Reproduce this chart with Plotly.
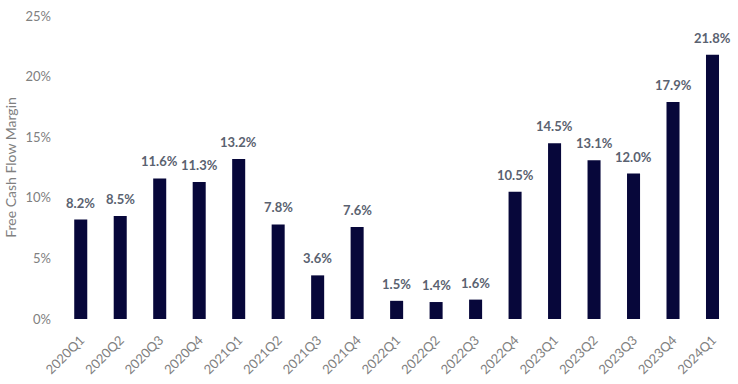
import plotly.graph_objects as go

quarters = ["2020Q1","2020Q2","2020Q3","2020Q4","2021Q1","2021Q2","2021Q3","2021Q4",
            "2022Q1","2022Q2","2022Q3","2022Q4","2023Q1","2023Q2","2023Q3","2023Q4","2024Q1"]
margins = [8.2, 8.5, 11.6, 11.3, 13.2, 7.8, 3.6, 7.6, 1.5, 1.4, 1.6, 10.5, 14.5, 13.1, 12.0, 17.9, 21.8]
y_ticks = [0, 5, 10, 15, 20, 25]
y_tick_labels = ["0%", "5%", "10%", "15%", "20%", "25%"]

fig = go.Figure(go.Bar(
    x=quarters, y=margins,
    marker=dict(color="#07073a", line=dict(width=0)),
    width=0.33,
    hoverinfo="x+y",
))

for q, v in zip(quarters, margins):
    fig.add_annotation(x=q, y=v, text=f"{v:.1f}%", showarrow=False,
                       yanchor="bottom", yshift=7,
                       font=dict(family="Lato", size=13, color="#5a6270", weight="bold"))

fig.update_layout(
    width=738, height=384,
    margin=dict(l=61, r=5, t=16, b=65),
    paper_bgcolor="white", plot_bgcolor="white",
    font=dict(family="Lato", color="#808080", size=13),
    showlegend=False,
    xaxis=dict(tickangle=-45, showgrid=False, showline=False, ticks="",
               ticklabelstandoff=10,
               tickfont=dict(size=13, color="#808080")),
    yaxis=dict(range=[0, 25], tickvals=y_ticks, ticktext=y_tick_labels,
               showgrid=False, zeroline=False, showline=False, ticks="",
               ticklabelstandoff=9,
               tickfont=dict(size=13, color="#808080"),
               title=dict(text="Free Cash Flow Margin", standoff=5,
                          font=dict(size=14, color="#808080"))),
)

fig.write_html("out.html")
